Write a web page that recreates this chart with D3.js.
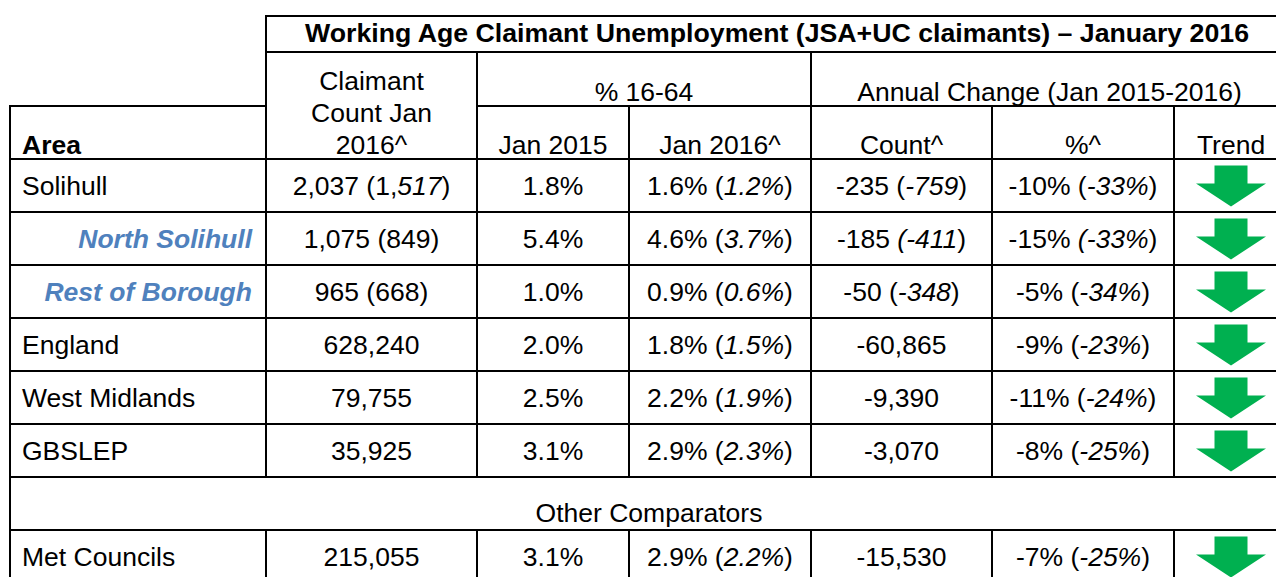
<!DOCTYPE html>
<html>
<head>
<meta charset="utf-8">
<script src="https://cdn.jsdelivr.net/npm/d3@7"></script>
<style>
body{margin:0;background:#fff;overflow:hidden;}
svg text{font-family:"Liberation Sans",Arial,sans-serif;font-size:26.5px;fill:#000;white-space:pre;}
</style>
</head>
<body>
<div class="container"></div>
<script>
const title = 'Working Age Claimant Unemployment (JSA+UC claimants) \u2013 January 2016';
const areas = ['Solihull','North Solihull','Rest of Borough','England','West Midlands','GBSLEP'];
const subAreas = ['North Solihull','Rest of Borough'];
const comparatorLabel = 'Other Comparators';
const comparators = ['Met Councils'];
const claimantJan16 = ['2,037 (1,_517_)','1,075 (849)','965 (668)','628,240','79,755','35,925','215,055'];
const pctJan15 = ['1.8%','5.4%','1.0%','2.0%','2.5%','3.1%','3.1%'];
const pctJan16 = ['1.6% (_1.2%_)','4.6% (_3.7%_)','0.9% (_0.6%_)','1.8% (_1.5%_)','2.2% (_1.9%_)','2.9% (_2.3%_)','2.9% (_2.2%_)'];
const changeCount = ['-235 (_-759_)','-185 _(-411_)','-50 (_-348_)','-60,865','-9,390','-3,070','-15,530'];
const changePct = ['-10% (_-33%_)','-15% _(-33%_)','-5% (_-34%_)','-9% (_-23%_)','-11% (_-24%_)','-8% (_-25%_)','-7% (_-25%_)'];
const trend = ['down','down','down','down','down','down','down'];

const W = 1276, H = 577;
//column edges: area, claimant count, jan15, jan16, count, %, trend
const colX = [10, 266, 477, 629, 811, 992, 1174, 1288];
const rowNames = areas.concat([comparatorLabel], comparators);
const dataRows = areas.concat(comparators);

const y = d3.scaleBand()
	.domain(rowNames)
	.range([159, 159 + rowNames.length*53])
	.paddingInner(0);

const svg = d3.select('.container')
	.append('svg')
	.attr('width', W)
	.attr('height', H);

const lines = svg.append('g').attr('class','grid');
function hline(x1, x2, yy){
	lines.append('line').attr('x1',x1).attr('x2',x2).attr('y1',yy).attr('y2',yy)
		.attr('stroke','#000').attr('stroke-width',2);
}
function vline(xx, y1, y2){
	lines.append('line').attr('x1',xx).attr('x2',xx).attr('y1',y1).attr('y2',y2)
		.attr('stroke','#000').attr('stroke-width',2);
}

//header lines
const right = colX[7];
hline(colX[1]-1, right, 16);
hline(colX[1]-1, right, 52);
hline(colX[0]-1, colX[1], 106);
hline(colX[2], right, 106);
vline(colX[1], 15, 159);
vline(colX[2], 52, 159);
vline(colX[4], 52, 159);
vline(colX[0], 105, 159);
[3,5,6].forEach(function(i){ vline(colX[i], 106, 159); });

//row lines
hline(colX[0]-1, right, 159);
rowNames.forEach(function(r){
	hline(colX[0]-1, right, y(r) + y.bandwidth());
	vline(colX[0], y(r), y(r) + y.bandwidth());
	if(r !== comparatorLabel){
		colX.slice(1,7).forEach(function(xx){ vline(xx, y(r), y(r) + y.bandwidth()); });
	}
});

//header text
const head = svg.append('g').attr('class','head');
head.append('text')
	.attr('x', (colX[1]+right)/2)
	.attr('y', 42)
	.attr('text-anchor','middle')
	.style('font-weight','bold')
	.style('font-size','26.7px')
	.text(title);

const cc = (colX[1]+colX[2])/2;
['Claimant','Count Jan','2016^'].forEach(function(t, i){
	head.append('text').attr('x', cc).attr('y', 90 + i*32).attr('text-anchor','middle').text(t);
});
head.append('text').attr('x',(colX[2]+colX[4])/2).attr('y',101).attr('text-anchor','middle').text('% 16-64');
head.append('text').attr('x',(colX[4]+right)/2).attr('y',101).attr('text-anchor','middle').text('Annual Change (Jan 2015-2016)');
head.append('text').attr('x', 22).attr('y',154).style('font-weight','bold').text('Area');
const subHeads = ['Jan 2015','Jan 2016^','Count^','%^','Trend'];
subHeads.forEach(function(t, i){
	head.append('text')
		.attr('x', (colX[i+2]+colX[i+3])/2)
		.attr('y', 154)
		.attr('text-anchor','middle')
		.text(t);
});

//rich text helper: odd pieces italic
function richText(sel, str){
	str.split('_').forEach(function(s, i){
		if(s) sel.append('tspan').style('font-style', i%2 ? 'italic' : 'normal').text(s);
	});
}

//body cells
const body = svg.append('g').attr('class','body');
const columns = [claimantJan16, pctJan15, pctJan16, changeCount, changePct];

dataRows.forEach(function(r, i){
	const cy = y(r) + y.bandwidth()/2 + 9.5;
	const isSub = subAreas.indexOf(r) > -1;
	body.append('text')
		.attr('x', isSub ? colX[1]-14 : 22)
		.attr('y', cy)
		.attr('text-anchor', isSub ? 'end' : 'start')
		.style('font-weight', isSub ? 'bold' : 'normal')
		.style('font-style', isSub ? 'italic' : 'normal')
		.style('fill', isSub ? '#4F81BD' : '#000')
		.text(r);
	columns.forEach(function(col, j){
		const t = body.append('text')
			.attr('x', (colX[j+1]+colX[j+2])/2)
			.attr('y', cy)
			.attr('text-anchor','middle');
		richText(t, col[i]);
	});
});

//comparator separator row
body.append('text')
	.attr('x', (colX[0]+right)/2)
	.attr('y', y(comparatorLabel) + y.bandwidth() - 8)
	.attr('text-anchor','middle')
	.text(comparatorLabel);

//trend arrows
const ax = (colX[6]+right)/2;
const arrow = function(top){
	const p = d3.path();
	p.moveTo(ax-16.5, top);
	p.lineTo(ax+16.5, top);
	p.lineTo(ax+16.5, top+18);
	p.lineTo(ax+35, top+18);
	p.lineTo(ax, top+41);
	p.lineTo(ax-35, top+18);
	p.lineTo(ax-16.5, top+18);
	p.closePath();
	return p.toString();
};
svg.append('g').attr('class','arrows')
	.selectAll('path')
	.data(dataRows.filter(function(r, i){ return trend[i] === 'down'; }))
	.enter()
	.append('path')
	.attr('d', function(r){ return arrow(y(r) + 6.5); })
	.style('fill','#00B050');
</script>
</body>
</html>
